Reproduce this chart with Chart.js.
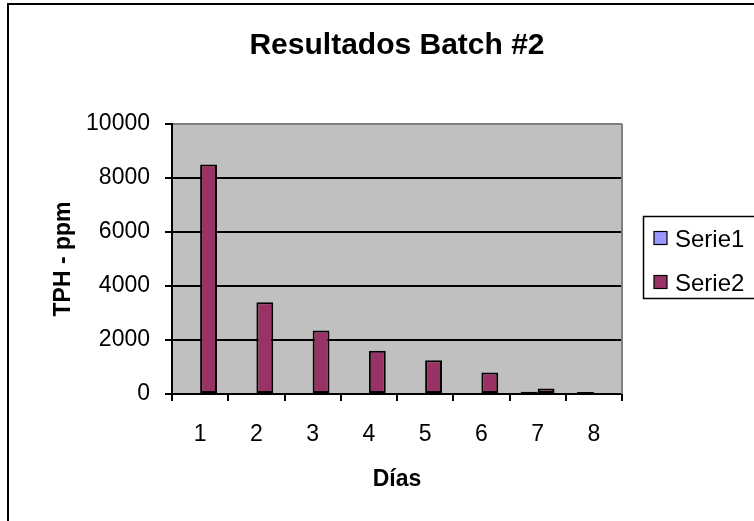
<!DOCTYPE html>
<html>
<head>
<meta charset="utf-8">
<script src="https://cdn.jsdelivr.net/npm/chart.js@4/dist/chart.umd.min.js"></script>
<style>
  html, body { margin: 0; padding: 0; background: #fff; }
  #wrap { width: 754px; height: 521px; }
</style>
</head>
<body>
<div id="wrap"><canvas id="c" width="754" height="521"></canvas></div>
<script>
const categories = ['1', '2', '3', '4', '5', '6', '7', '8'];
const serie1 = [0, 0, 0, 0, 0, 0, 80, 70];
const serie2 = [8500, 3400, 2350, 1600, 1250, 800, 200, 0];
const seriesNames = ['Serie1', 'Serie2'];
const chartTitle = 'Resultados Batch #2';
const xTitle = 'Días';
const yTitle = 'TPH - ppm';
const yMax = 10000;
const yStep = 2000;

const FONT = "'Liberation Sans', Arial, sans-serif";

const framePlugin = {
  id: 'frame',
  beforeDraw(chart) {
    const ctx = chart.ctx;
    const a = chart.chartArea;
    ctx.save();
    ctx.fillStyle = '#fff';
    ctx.fillRect(0, 0, chart.width, chart.height);
    ctx.strokeStyle = '#000';
    ctx.lineWidth = 2;
    ctx.strokeRect(8, 4, 800, 600);
    ctx.fillStyle = '#C0C0C0';
    ctx.fillRect(a.left, a.top, a.right - a.left, a.bottom - a.top);
    ctx.restore();
  },
  afterDraw(chart) {
    const ctx = chart.ctx;
    const a = chart.chartArea;
    ctx.save();
    ctx.strokeStyle = '#808080';
    ctx.lineWidth = 2;
    ctx.beginPath();
    ctx.moveTo(a.right, a.top);
    ctx.lineTo(a.right, a.bottom);
    ctx.stroke();
    const lx = 643, ly = 216, lw = 130, lh = 82;
    ctx.fillStyle = '#fff';
    ctx.fillRect(lx, ly, lw, lh);
    ctx.strokeStyle = '#000';
    ctx.lineWidth = 1.5;
    ctx.strokeRect(lx + 0.5, ly + 0.5, lw, lh);
    const rows = [238, 282];
    chart.data.datasets.forEach((ds, i) => {
      const cy = rows[i];
      ctx.fillStyle = ds.backgroundColor;
      ctx.fillRect(654, cy - 6.5, 13, 13);
      ctx.strokeStyle = '#000';
      ctx.lineWidth = 1.2;
      ctx.strokeRect(654, cy - 6.5, 13, 13);
      ctx.fillStyle = '#000';
      ctx.font = '24px ' + FONT;
      ctx.textBaseline = 'alphabetic';
      ctx.textAlign = 'left';
      ctx.fillText(ds.label, 675, cy + 8.5);
    });
    ctx.restore();
  }
};

new Chart(document.getElementById('c'), {
  type: 'bar',
  data: {
    labels: categories,
    datasets: [
      { label: seriesNames[0], data: serie1, backgroundColor: '#9999FF', borderColor: '#000', borderWidth: 2, borderSkipped: false },
      { label: seriesNames[1], data: serie2, backgroundColor: '#993366', borderColor: '#000', borderWidth: 2, borderSkipped: false }
    ]
  },
  options: {
    responsive: false,
    devicePixelRatio: 1,
    animation: false,
    layout: { padding: { left: 0, top: 0, right: 132, bottom: 0 } },
    datasets: { bar: { categoryPercentage: 0.6, barPercentage: 1 } },
    plugins: {
      legend: { display: false },
      tooltip: { enabled: false },
      title: {
        display: true,
        fullSize: false,
        align: 'center',
        text: chartTitle,
        color: '#000',
        font: { family: FONT, size: 30, weight: 'bold', lineHeight: 1.2 },
        padding: { top: 28, bottom: 60 }
      }
    },
    scales: {
      x: {
        afterFit(s) { s.height = 127; },
        grid: { drawOnChartArea: false, color: '#000', lineWidth: 2, tickLength: 7, offset: true },
        border: { color: '#000', width: 2 },
        ticks: { color: '#000', font: { family: FONT, size: 23 }, padding: 20, maxRotation: 0 },
        title: {
          display: true, text: xTitle, color: '#000',
          font: { family: FONT, size: 23, weight: 'bold', lineHeight: 1.2 },
          padding: { top: 0, bottom: 28 }
        }
      },
      y: {
        min: 0, max: yMax,
        afterFit(s) { s.width = 172; },
        grid: {
          color: (c) => (c.tick && c.tick.value === yMax) ? '#808080' : '#000',
          tickColor: '#000',
          lineWidth: 2, tickLength: 7
        },
        border: { color: '#000', width: 2 },
        ticks: {
          stepSize: yStep, color: '#000', font: { family: FONT, size: 23 }, padding: 15,
          callback: (v) => String(v)
        },
        title: {
          display: true, text: yTitle, color: '#000',
          font: { family: FONT, size: 23, weight: 'bold', lineHeight: 1.2 },
          padding: { top: 50, bottom: 0 }
        }
      }
    }
  },
  plugins: [framePlugin]
});
</script>
</body>
</html>
